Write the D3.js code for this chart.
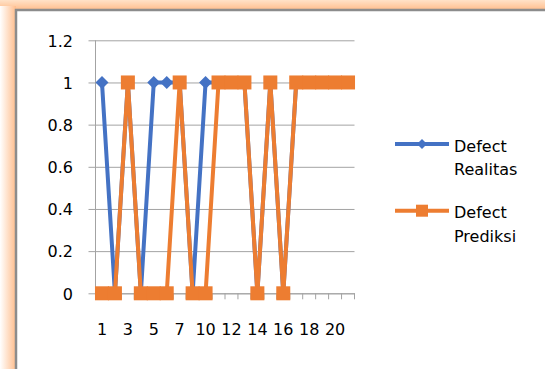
<!DOCTYPE html>
<html>
<head>
<meta charset="utf-8">
<script src="https://cdn.jsdelivr.net/npm/d3@7"></script>
<style>
  html, body { margin: 0; padding: 0; background: #fff; }
  svg { display: block; }
  text { font-family: "DejaVu Sans", sans-serif; fill: #000; }
</style>
</head>
<body>
<svg id="chart" width="545" height="369"></svg>
<script>
// ---- data ----
const categories = [1, 2, 3, 4, 5, 6, 7, 8, 10, 11, 12, 13, 14, 15, 16, 17, 18, 19, 20, 21];
const realitas   = [1, 0, 1, 0, 1, 1, 1, 0, 1, 1, 1, 1, 0, 1, 0, 1, 1, 1, 1, 1];
const prediksi   = [0, 0, 1, 0, 0, 0, 1, 0, 0, 1, 1, 1, 0, 1, 0, 1, 1, 1, 1, 1];
const yTicks     = [0, 0.2, 0.4, 0.6, 0.8, 1, 1.2];
const seriesNames = ["Defect Realitas", "Defect Prediksi"];

const blue = "#4472C4", orange = "#ED7D31", grid = "#a3a3a3";
const svg = d3.select("#chart");

// ---- frame with orange glow ----
const defs = svg.append("defs");
const gTop = defs.append("linearGradient").attr("id", "gTop").attr("x1", 0).attr("y1", 0).attr("x2", 0).attr("y2", 1);
gTop.append("stop").attr("offset", "0%").attr("stop-color", "#ffe2c8");
gTop.append("stop").attr("offset", "100%").attr("stop-color", "#ffbd8c");
const gLeft = defs.append("linearGradient").attr("id", "gLeft").attr("x1", 0).attr("y1", 0).attr("x2", 1).attr("y2", 0);
gLeft.append("stop").attr("offset", "0%").attr("stop-color", "#ffffff");
gLeft.append("stop").attr("offset", "100%").attr("stop-color", "#ffbd8c");
svg.append("rect").attr("x", 0).attr("y", 0).attr("width", 545).attr("height", 10).attr("fill", "url(#gTop)");
svg.append("rect").attr("x", 0).attr("y", 6).attr("width", 16).attr("height", 363).attr("fill", "url(#gLeft)");
svg.append("rect").attr("x", 16).attr("y", 10).attr("width", 560).attr("height", 400)
  .attr("fill", "#fff").attr("stroke", "#8c8c8c").attr("stroke-width", 2.5);

// ---- scales ----
const x = d3.scaleBand().domain(categories).range([95.5, 354.5]).padding(0);
const y = d3.scaleLinear().domain([0, 1.2]).range([293.3, 40.3]);
const cx = c => x(c) + x.bandwidth() / 2;

// ---- gridlines + y axis ----
const gy = svg.append("g").attr("transform", "translate(95.5,0)")
  .call(d3.axisLeft(y).tickValues(yTicks).tickSizeInner(-259).tickSizeOuter(0).tickFormat(""));
gy.select(".domain").remove();
gy.selectAll(".tick line").attr("stroke", grid).attr("x1", -7);

const gyl = svg.append("g").attr("transform", "translate(73,0)")
  .call(d3.axisLeft(y).tickValues(yTicks).tickSize(0).tickPadding(0).tickFormat(d => String(d)));
gyl.select(".domain").remove();
gyl.selectAll(".tick line").remove();
gyl.selectAll("text").attr("font-size", 16).attr("font-family", "DejaVu Sans").attr("fill", "#000")
  .attr("dy", "0.36em");

svg.append("line").attr("x1", 95.5).attr("x2", 95.5).attr("y1", y(1.2)).attr("y2", y(0))
  .attr("stroke", grid);

// ---- x axis ----
const gx = svg.append("g").attr("transform", `translate(0,${y(0)})`)
  .call(d3.axisBottom(x).tickSize(0).tickPadding(0)
    .tickFormat((d, i) => i % 2 === 0 ? String(d) : ""));
gx.select(".domain").attr("stroke", grid);
gx.selectAll(".tick line").remove();
gx.selectAll("text").attr("font-size", 16).attr("font-family", "DejaVu Sans").attr("fill", "#000")
  .attr("y", 42).attr("dy", 0);
// tick marks at band boundaries
const bounds = categories.map(c => x(c)).concat([x(categories[categories.length - 1]) + x.bandwidth()]);
svg.append("g").selectAll("line").data(bounds).join("line")
  .attr("x1", d => d).attr("x2", d => d).attr("y1", y(0)).attr("y2", y(0) + 6)
  .attr("stroke", grid);

// ---- series ----
const line = d3.line().x((d, i) => cx(categories[i])).y(d => y(d));
const diamond = "M0,-6.5L6.5,0L0,6.5L-6.5,0Z";

svg.append("path").datum(realitas).attr("d", line).attr("fill", "none")
  .attr("stroke", blue).attr("stroke-width", 4).attr("stroke-linejoin", "round");
svg.append("g").selectAll("path").data(realitas).join("path")
  .attr("d", diamond).attr("fill", blue)
  .attr("transform", (d, i) => `translate(${cx(categories[i])},${y(d)})`);

svg.append("path").datum(prediksi).attr("d", line).attr("fill", "none")
  .attr("stroke", orange).attr("stroke-width", 4).attr("stroke-linejoin", "round");
svg.append("g").selectAll("rect").data(prediksi).join("rect")
  .attr("x", (d, i) => cx(categories[i]) - 7).attr("y", d => y(d) - 7)
  .attr("width", 14).attr("height", 14).attr("fill", orange);

// ---- legend ----
const legend = [
  { name: seriesNames[0], color: blue, ly: 144, marker: "diamond" },
  { name: seriesNames[1], color: orange, ly: 210.7, marker: "square" }
];
const lg = svg.append("g");
legend.forEach(l => {
  lg.append("line").attr("x1", 395).attr("x2", 449).attr("y1", l.ly).attr("y2", l.ly)
    .attr("stroke", l.color).attr("stroke-width", 4);
  if (l.marker === "diamond") {
    lg.append("path").attr("d", "M0,-5L5,0L0,5L-5,0Z").attr("fill", l.color)
      .attr("transform", `translate(422,${l.ly})`);
  } else {
    lg.append("rect").attr("x", 416).attr("y", l.ly - 6).attr("width", 12).attr("height", 12)
      .attr("fill", l.color);
  }
  const words = l.name.split(" ");
  const t = lg.append("text").attr("x", 454).attr("y", l.ly + 7.5)
    .attr("font-size", 16);
  words.forEach((w, k) => {
    t.append("tspan").attr("x", 454).attr("dy", k === 0 ? 0 : 23.3).text(w);
  });
});
</script>
</body>
</html>
